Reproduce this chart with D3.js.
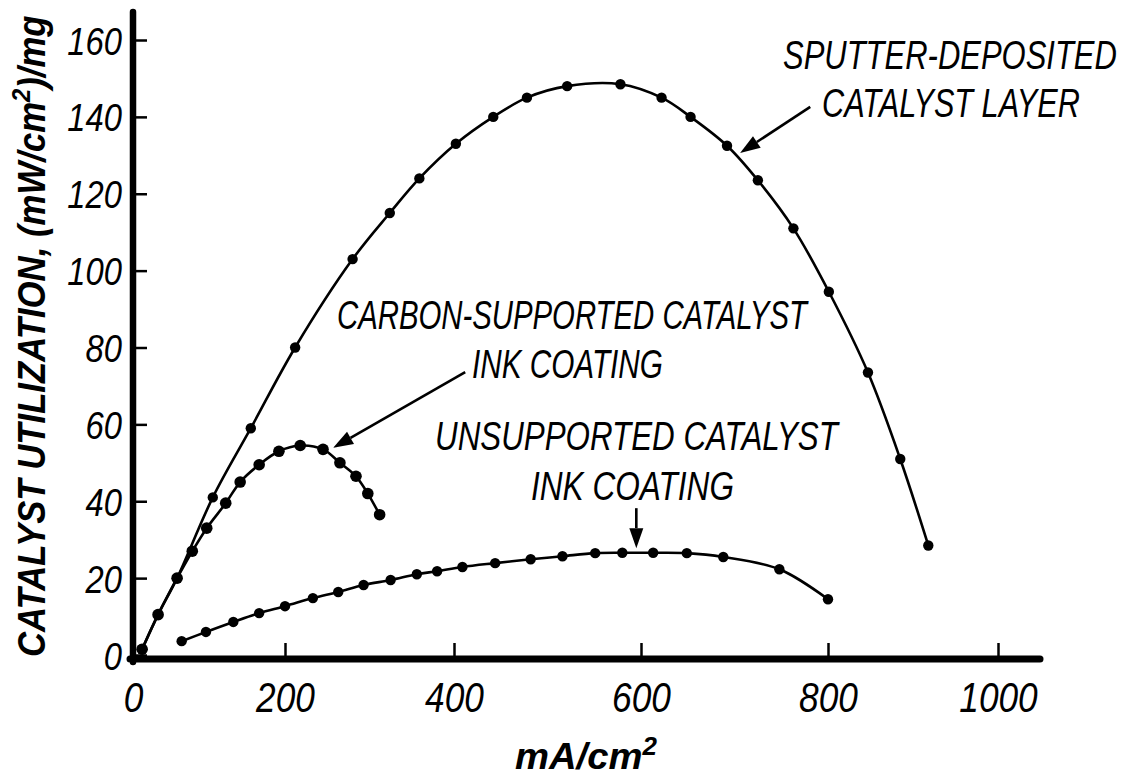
<!DOCTYPE html>
<html>
<head>
<meta charset="utf-8">
<script src="https://cdn.jsdelivr.net/npm/d3@7"></script>
<style>
    body { margin: 0; background: #fff; }
    text { font-family: 'Liberation Sans', Arial, Helvetica, sans-serif; font-style: italic; fill: #000; }
</style>
</head>
<body>
<div id="chart"></div>
<script>
// values (x in mA/cm2, y in (mW/cm2)/mg)
const sputterX = [12, 33, 58, 105, 155, 212, 280, 324, 359, 402, 442, 478, 521, 578, 622, 653, 692, 725, 763, 801, 847, 885, 918];
const sputterY = [1.5, 10.5, 20, 41, 59, 80, 103, 115, 124, 133, 140, 145, 148, 148.5, 145, 140, 132.5, 123.5, 111, 94.5, 73.5, 51, 28.5];

const carbonX = [12, 33, 58, 78, 97, 122, 141, 166, 192, 218, 245, 265, 284, 298, 312];
const carbonY = [1.5, 10.5, 20, 27, 33, 39.5, 45, 49.5, 53, 54.5, 53.5, 50, 46.5, 42, 36.5];

const unsupportedX = [64, 96, 132, 166, 200, 233, 263, 293, 325, 356, 380, 409, 444, 482, 516, 551, 580, 613, 649, 688, 748, 800];
const unsupportedY = [3.6, 6, 8.6, 10.9, 12.7, 14.8, 16.4, 18.2, 19.5, 21, 21.8, 22.9, 23.9, 24.9, 25.7, 26.5, 26.6, 26.6, 26.5, 25.5, 22.3, 14.5];

const xTicks = [0, 200, 400, 600, 800, 1000];
const yTicks = [0, 20, 40, 60, 80, 100, 120, 140, 160];

const width = 1132;
const height = 778;
const squeeze = 0.84; // the figure uses a condensed face

// the scanned axis is not evenly spaced, so the scale follows the printed ticks
const x = d3.scaleLinear()
    .domain(xTicks)
    .range([133, 285, 454, 641, 828, 998]);

const y = d3.scaleLinear()
    .domain([0, 160])
    .range([655, 40]);

const svg = d3.select('#chart')
    .append('svg')
    .attr('width', width)
    .attr('height', height)
    .style('background', '#fff');

const zip = (xs, ys) => xs.map((v, i) => ({ x: v, y: ys[i] }));

const series = [
    { name: 'sputter', points: zip(sputterX, sputterY) },
    { name: 'carbon', points: zip(carbonX, carbonY) },
    { name: 'unsupported', points: zip(unsupportedX, unsupportedY) }
];

const line = d3.line()
    .x(d => x(d.x))
    .y(d => y(d.y))
    .curve(d3.curveCatmullRom.alpha(0.5));

// axes
const xAxis = svg.append('g')
    .attr('transform', `translate(0,${y(0) + 4})`)
    .call(d3.axisBottom(x).tickValues(xTicks).tickSize(-16).tickPadding(23).tickFormat(d3.format('d')));

xAxis.select('.domain').remove();
xAxis.selectAll('line').style('stroke', '#000').style('stroke-width', 2.5);
xAxis.selectAll('text')
    .style('font-size', '42px')
    .attr('transform', `scale(${squeeze},1)`);

const yAxis = svg.append('g')
    .attr('transform', `translate(${x(0)},0)`)
    .call(d3.axisLeft(y).tickValues(yTicks).tickSize(-14).tickPadding(0));

yAxis.select('.domain').remove();
yAxis.selectAll('line').style('stroke', '#000').style('stroke-width', 2.5);
yAxis.selectAll('text')
    .style('font-size', '39px')
    .attr('x', 0)
    .attr('dy', '0.36em')
    .attr('transform', `translate(-11,0) scale(${squeeze},1)`);
svg.selectAll('.tick text').attr('font-family', null);

svg.append('line')
    .attr('x1', x(0)).attr('y1', y(0) + 7)
    .attr('x2', x(0)).attr('y2', 12)
    .style('stroke', '#000').style('stroke-width', 6.5).style('stroke-linecap', 'round');

svg.append('line')
    .attr('x1', x(0) - 3).attr('y1', y(0) + 4)
    .attr('x2', 1040).attr('y2', y(0) + 4)
    .style('stroke', '#000').style('stroke-width', 7).style('stroke-linecap', 'round');

// curves and points
series.forEach(s => {
    svg.append('path')
        .datum(s.points)
        .attr('d', line)
        .style('fill', 'none')
        .style('stroke', '#000')
        .style('stroke-width', 2.6);

    svg.selectAll(`.dot-${s.name}`)
        .data(s.points)
        .enter().append('circle')
        .attr('class', `dot-${s.name}`)
        .attr('cx', d => x(d.x))
        .attr('cy', d => y(d.y))
        .attr('r', s.name === 'carbon' ? 5.8 : 5.2)
        .style('fill', '#000');
});

// text squeezed to the width it has in the figure
const addLabel = (parts, tx, ty, targetWidth, opts = {}) => {
    const size = opts.size || 40;
    const g = svg.append('g')
        .attr('transform', `translate(${tx},${ty})` + (opts.rotate ? ` rotate(${opts.rotate})` : ''));
    const t = g.append('text')
        .style('font-size', size + 'px')
        .style('font-weight', opts.bold ? 'bold' : 'normal');
    parts.forEach(p => {
        if (p.sup) {
            t.append('tspan').attr('dy', -size * 0.38).style('font-size', (size * 0.68) + 'px').text(p.text);
        } else {
            t.append('tspan').attr('dy', p.after ? size * 0.38 : 0).text(p.text);
        }
    });
    const w = t.node().getBBox().width;
    t.attr('transform', `scale(${targetWidth / w},1)`);
};

addLabel([{ text: 'SPUTTER-DEPOSITED' }], 783, 69, 334, { size: 40 });
addLabel([{ text: 'CATALYST LAYER' }], 822, 117, 258, { size: 40 });
addLabel([{ text: 'CARBON-SUPPORTED CATALYST' }], 337, 329, 472, { size: 40 });
addLabel([{ text: 'INK COATING' }], 472, 378, 191, { size: 40 });
addLabel([{ text: 'UNSUPPORTED CATALYST' }], 435, 450, 405, { size: 40 });
addLabel([{ text: 'INK COATING' }], 531, 500, 203, { size: 40 });

addLabel([{ text: 'CATALYST UTILIZATION, (mW/cm' }, { text: '2', sup: true }, { text: ')/mg', after: true }],
    45, 657, 642, { size: 39, bold: true, rotate: -90 });
addLabel([{ text: 'mA/cm' }, { text: '2', sup: true }], 515, 769, 142, { size: 37, bold: true });

// arrows, given in data units
const arrows = [
    { from: [781, 142.6], to: [706, 130.6] },
    { from: [412, 73.6], to: [257, 53.9] },
    { from: [595, 38.2], to: [595, 27.8] }
];

arrows.forEach(a => {
    const x1 = x(a.from[0]), y1 = y(a.from[1]);
    const x2 = x(a.to[0]), y2 = y(a.to[1]);
    const ang = Math.atan2(y2 - y1, x2 - x1);
    const len = 20, half = 7;
    const bx = x2 - len * Math.cos(ang), by = y2 - len * Math.sin(ang);
    svg.append('line')
        .attr('x1', x1).attr('y1', y1)
        .attr('x2', bx).attr('y2', by)
        .style('stroke', '#000').style('stroke-width', 2.6);
    svg.append('path')
        .attr('d', `M${x2},${y2}L${bx + half * Math.sin(ang)},${by - half * Math.cos(ang)}L${bx - half * Math.sin(ang)},${by + half * Math.cos(ang)}Z`)
        .style('fill', '#000');
});
</script>
</body>
</html>
